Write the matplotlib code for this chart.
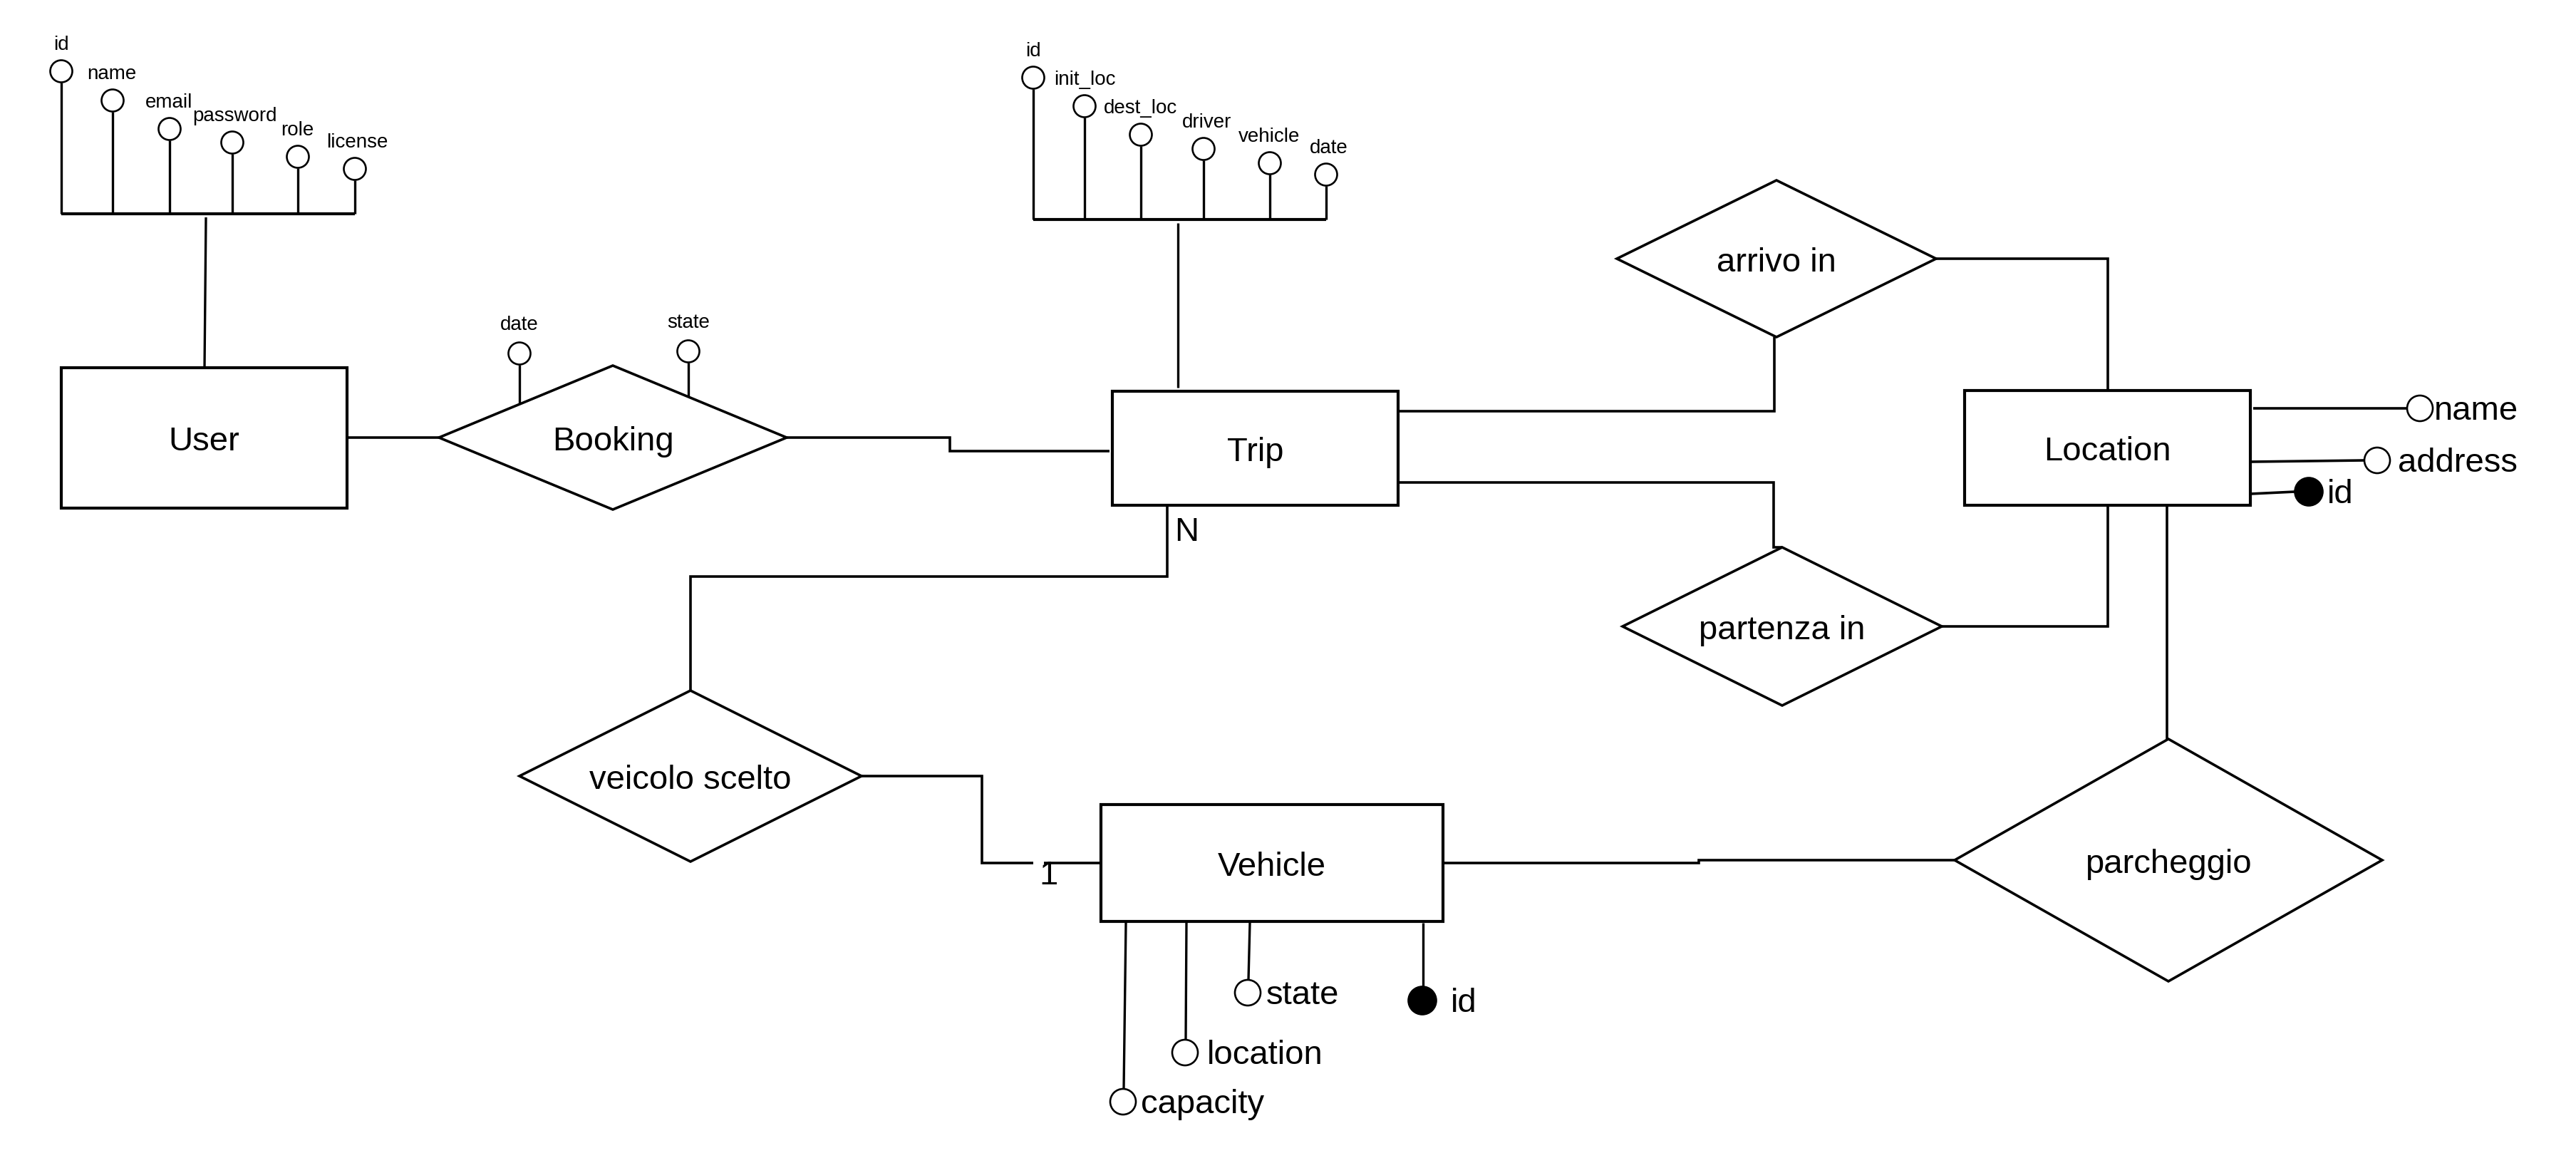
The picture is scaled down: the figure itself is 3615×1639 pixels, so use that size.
import matplotlib.pyplot as plt
from matplotlib.patches import Rectangle, Polygon, Circle

plt.rcParams['font.family'] = ['Liberation Sans', 'DejaVu Sans']

# --- Diagram content ---

user_attrs = ["id", "name", "email", "password", "role", "license"]
trip_attrs = ["id", "init_loc", "dest_loc", "driver", "vehicle", "date"]
booking_attrs = ["date", "state"]
location_attrs = ["name", "address", "id"]
location_keys = [False, False, True]
vehicle_attrs = ["capacity", "location", "state", "id"]
vehicle_keys = [False, False, False, True]
card_trip = "N"
card_vehicle = "1"

# --- Layout (pixel space of the 3616x1640 canvas) ---

# entity boxes: x0, y0, x1, y1
entities = {
    "User": (86, 517, 487, 714),
    "Trip": (1561, 550, 1962, 710),
    "Location": (2757, 549, 3158, 710),
    "Vehicle": (1545, 1130, 2025, 1294),
}
# relationships: cx, cy, half width, half height
relations = {
    "Booking": (860, 615, 244, 101),
    "arrivo in": (2493, 364, 224, 110),
    "partenza in": (2501, 880, 224, 111),
    "veicolo scelto": (969, 1090, 240, 120),
    "parcheggio": (3043, 1208, 300, 170),
}

LW = 2.6
SMALL = 20
BIG = 34
R_SMALL = 15.5
R_BIG = 18
R_KEY = 19.5

fig = plt.figure(figsize=(36.16, 16.4), dpi=100)
ax = fig.add_axes([0, 0, 1, 1])
ax.set_xlim(0, 3616)
ax.set_ylim(1640, 0)
ax.axis("off")


def line(xs, ys, lw=LW):
    ax.plot(xs, ys, color="black", lw=lw, solid_capstyle="butt",
            solid_joinstyle="miter", zorder=2)


def circle(x, y, r, filled=False):
    ax.add_patch(Circle((x, y), r, facecolor="black" if filled else "white",
                        edgecolor="black", lw=1.9, zorder=4))


def draw_entity(name):
    x0, y0, x1, y1 = entities[name]
    ax.add_patch(Rectangle((x0, y0), x1 - x0, y1 - y0, facecolor="white",
                           edgecolor="black", lw=3.0, zorder=3))
    ax.text((x0 + x1) / 2, (y0 + y1) / 2 + 17, name, fontsize=BIG,
            ha="center", va="baseline", zorder=5)


def draw_relation(name):
    cx, cy, hw, hh = relations[name]
    pts = [(cx - hw, cy), (cx, cy - hh), (cx + hw, cy), (cx, cy + hh)]
    ax.add_patch(Polygon(pts, closed=True, facecolor="white",
                         edgecolor="black", lw=2.6, zorder=3))
    ax.text(cx, cy + 17, name, fontsize=BIG, ha="center", va="baseline",
            zorder=5)


def diamond_top(name, x):
    cx, cy, hw, hh = relations[name]
    return cy - hh * (1 - abs(x - cx) / hw)


def draw_comb(names, xs, cys, bar_y, label_xs):
    line([xs[0], xs[-1]], [bar_y, bar_y], lw=3.0)
    for nm, x, cy, lx in zip(names, xs, cys, label_xs):
        line([x, x], [cy + R_SMALL, bar_y], lw=2.4)
        circle(x, cy, R_SMALL)
        ax.text(lx, cy - 31, nm, fontsize=SMALL, ha="center", va="baseline")


for e in entities:
    draw_entity(e)
for r in relations:
    draw_relation(r)

# --- User attributes ---
draw_comb(user_attrs,
          [86, 158, 238, 326, 418, 498],
          [101, 142, 182, 201, 221, 238],
          301, [86, 157, 237, 329, 417, 501])
line([289, 287], [306, entities["User"][1]], lw=2.4)

# --- Trip attributes ---
draw_comb(trip_attrs,
          [1450, 1522, 1601, 1689, 1782, 1861],
          [110, 150, 190, 210, 230, 246],
          309, [1450, 1522, 1601, 1694, 1781, 1865])
line([1653, 1653], [314, 545], lw=2.4)

# --- Booking attributes ---
for nm, x, cy in zip(booking_attrs, [729, 966], [497, 494]):
    line([x, x], [cy + R_SMALL, diamond_top("Booking", x)], lw=2.4)
    circle(x, cy, R_SMALL)
    ax.text(x, cy - 34, nm, fontsize=SMALL, ha="center", va="baseline")

# --- Location attributes (to the right) ---
lx1 = entities["Location"][2]
loc_line_y = [574, 649, 694]
loc_circ = [(3396, 574), (3336, 647), (3240, 691)]
loc_label_x = [3416, 3365, 3266]
for nm, key, ly, (cx, cy), tx in zip(location_attrs, location_keys,
                                      loc_line_y, loc_circ, loc_label_x):
    r = R_KEY if key else R_BIG
    x_start = lx1 + 4 if nm == "name" else lx1
    line([x_start, cx - r], [ly, cy], lw=2.6)
    circle(cx, cy, r, filled=key)
    ax.text(tx, cy + 15, nm, fontsize=BIG, ha="left", va="baseline")

# --- Vehicle attributes (below) ---
vy1 = entities["Vehicle"][3]
veh_stem_x = [1580, 1665, 1754, 1997]
veh_circ = [(1576, 1547), (1663, 1478), (1751, 1394), (1996, 1405)]
veh_label_x = [1601, 1694, 1777, 2036]
for nm, key, sx, (cx, cy), tx in zip(vehicle_attrs, vehicle_keys,
                                      veh_stem_x, veh_circ, veh_label_x):
    r = R_KEY if key else R_BIG
    line([sx, cx + 1], [vy1 + 2, cy - r], lw=2.4)
    circle(cx, cy, r, filled=key)
    ax.text(tx, cy + 15, nm, fontsize=BIG, ha="left", va="baseline")

# --- Connections ---
U = entities["User"]
T = entities["Trip"]
L = entities["Location"]
V = entities["Vehicle"]
bk = relations["Booking"]
ar = relations["arrivo in"]
pa = relations["partenza in"]
vs = relations["veicolo scelto"]
pc = relations["parcheggio"]

line([U[2], bk[0] - bk[2]], [615, 615])
line([bk[0] + bk[2], 1333, 1333, T[0] - 4], [615, 615, 634, 634])
line([T[2], 2490, 2490], [578, 578, ar[1] + ar[3]])
line([ar[0] + ar[2], 2958, 2958], [ar[1], ar[1], L[1]])
line([T[2], 2489, 2489, pa[0]], [678, 678, pa[1] - pa[3], pa[1] - pa[3]])
line([pa[0] + pa[2], 2958, 2958], [pa[1], pa[1], L[3]])
line([3041, 3041], [L[3], pc[1] - pc[3]])
line([V[2], 2384, 2384, pc[0] - pc[2]], [1212, 1212, 1208, 1208])
line([1638, 1638, vs[0], vs[0]], [T[3], 810, 810, vs[1] - vs[3]])
line([vs[0] + vs[2], 1378, 1378, 1450], [vs[1], vs[1], 1212, 1212])
line([1465, V[0]], [1212, 1212])

# cardinalities
ax.text(1648, 759, card_trip, fontsize=BIG, ha="left", va="baseline")
ax.text(1472, 1241, card_vehicle, fontsize=BIG, ha="center", va="baseline")

fig.savefig("out.png", dpi=100, facecolor="white")
